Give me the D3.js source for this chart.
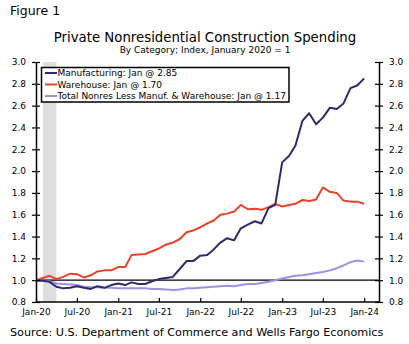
<!DOCTYPE html>
<html>
<head>
<meta charset="utf-8">
<script src="https://cdn.jsdelivr.net/npm/d3@7"></script>
<style>
  html, body { margin: 0; padding: 0; background: #fff; }
  svg { display: block; }
  text { font-family: "DejaVu Sans", Verdana, sans-serif; fill: #000; }
</style>
</head>
<body>
<svg id="chart" width="409" height="344"></svg>
<script>
// Monthly index values, January 2020 = 1, Jan-20 through Jan-24
const manufacturing = [
  1.00, 0.995, 0.985, 0.94, 0.925, 0.93, 0.945, 0.93, 0.92, 0.945, 0.93, 0.955,
  0.97, 0.955, 0.98, 0.965, 0.965, 0.99, 1.01, 1.02, 1.03, 1.10, 1.175, 1.175,
  1.225, 1.23, 1.28, 1.345, 1.385, 1.365, 1.475, 1.51, 1.54, 1.52, 1.66, 1.69,
  2.08, 2.14, 2.235, 2.46, 2.53, 2.43, 2.49, 2.58, 2.57, 2.62, 2.76, 2.785,
  2.85
];
const warehouse = [
  1.00, 1.02, 1.04, 1.01, 1.03, 1.06, 1.055, 1.025, 1.045, 1.08, 1.09, 1.09,
  1.12, 1.12, 1.23, 1.235, 1.24, 1.265, 1.29, 1.325, 1.345, 1.375, 1.44, 1.455,
  1.485, 1.52, 1.545, 1.60, 1.61, 1.63, 1.69, 1.65, 1.655, 1.645, 1.67, 1.70,
  1.675, 1.69, 1.70, 1.735, 1.725, 1.74, 1.85, 1.81, 1.80, 1.73, 1.72, 1.72,
  1.70
];
const totalLessManufWarehouse = [
  1.00, 0.995, 0.99, 0.97, 0.965, 0.96, 0.955, 0.94, 0.935, 0.935, 0.93, 0.93,
  0.925, 0.925, 0.925, 0.925, 0.925, 0.92, 0.92, 0.915, 0.91, 0.915, 0.925, 0.925,
  0.93, 0.935, 0.94, 0.945, 0.95, 0.945, 0.955, 0.965, 0.965, 0.975, 0.985, 1.00,
  1.015, 1.03, 1.04, 1.045, 1.055, 1.065, 1.075, 1.09, 1.11, 1.135, 1.165, 1.18,
  1.17
];
const months = d3.range(manufacturing.length).map(i => new Date(2020, i, 1));

const seriesNames = [
  "Manufacturing: Jan @ 2.85",
  "Warehouse: Jan @ 1.70",
  "Total Nonres Less Manuf. & Warehouse: Jan @ 1.17"
];
const seriesColors = ["#2d2a6e", "#e8432b", "#9d90e6"];
const seriesValues = [manufacturing, warehouse, totalLessManufWarehouse];

const yTickValues = [0.8, 1.0, 1.2, 1.4, 1.6, 1.8, 2.0, 2.2, 2.4, 2.6, 2.8, 3.0];
const recession = [new Date(2020, 1, 1), new Date(2020, 3, 1)];

const svg = d3.select("#chart");
const plotLeft = 36, plotRight = 379, plotTop = 62, plotBottom = 302;

const x = d3.scaleTime()
  .domain([new Date(2020, 0, 1), new Date(2024, 2, 7)])
  .range([plotLeft, plotRight]);
const y = d3.scaleLinear().domain([0.8, 3.0]).range([plotBottom, plotTop]);

// Recession shading
svg.append("rect")
  .attr("x", x(recession[0]))
  .attr("y", plotTop)
  .attr("width", x(recession[1]) - x(recession[0]))
  .attr("height", plotBottom - plotTop)
  .attr("fill", "#dedede");

// Reference line at 1.0
svg.append("line")
  .attr("x1", plotLeft).attr("x2", plotRight)
  .attr("y1", y(1)).attr("y2", y(1))
  .attr("stroke", "#000").attr("stroke-width", 1.2);

// Series lines, first series drawn on top
const line = d3.line().x((d, i) => x(months[i])).y(d => y(d));
seriesValues.slice().reverse().forEach((vals, k) => {
  const idx = seriesValues.length - 1 - k;
  svg.append("path")
    .datum(vals)
    .attr("d", line)
    .attr("fill", "none")
    .attr("stroke", seriesColors[idx])
    .attr("stroke-width", 2)
    .attr("stroke-linejoin", "round");
});

// Axes
const fmt = d3.format(".1f");
const yLeft = svg.append("g")
  .attr("transform", `translate(${plotLeft},0)`)
  .call(d3.axisLeft(y).tickValues(yTickValues).tickFormat(fmt).tickSize(4).tickSizeOuter(0).tickPadding(6));
const yRight = svg.append("g")
  .attr("transform", `translate(${plotRight},0)`)
  .call(d3.axisRight(y).tickValues(yTickValues).tickFormat(fmt).tickSize(4).tickSizeOuter(0).tickPadding(6));
yLeft.selectAll(".tick line").attr("x1", 4).attr("x2", -4);
yRight.selectAll(".tick line").attr("x1", -4).attr("x2", 4);

const xAxis = svg.append("g")
  .attr("transform", `translate(0,${plotBottom})`)
  .call(d3.axisBottom(x).ticks(d3.timeMonth.every(6)).tickFormat(d3.timeFormat("%b-%y"))
    .tickSize(-4).tickSizeOuter(0).tickPadding(7));
xAxis.select(".domain").attr("d", `M${plotLeft},0H${plotRight}`);

[yLeft, yRight, xAxis].forEach(g => {
  g.selectAll(".domain").attr("stroke", "#000").attr("stroke-width", 1.5);
  g.selectAll(".tick line").attr("stroke", "#000").attr("stroke-width", 1.2);
  g.selectAll("text").attr("font-size", 9).attr("font-family", "DejaVu Sans, Verdana, sans-serif").attr("fill", "#000");
});

// Legend
const lg = svg.append("g");
lg.append("rect")
  .attr("x", 41.5).attr("y", 67.5).attr("width", 247.5).attr("height", 34.5)
  .attr("fill", "#fff").attr("stroke", "#000").attr("stroke-width", 1.5);
seriesNames.forEach((name, i) => {
  const ly = 73 + i * 11.5;
  lg.append("line")
    .attr("x1", 45).attr("x2", 57).attr("y1", ly).attr("y2", ly)
    .attr("stroke", seriesColors[i]).attr("stroke-width", 2);
  lg.append("text")
    .attr("x", 57.5).attr("y", ly).attr("dy", "0.35em")
    .attr("font-size", 9)
    .text(name);
});

// Titles and notes
svg.append("text").attr("x", 10).attr("y", 14.5).attr("font-size", 12.5).text("Figure 1");
svg.append("text").attr("x", 205).attr("y", 42).attr("text-anchor", "middle")
  .attr("font-size", 13.3).text("Private Nonresidential Construction Spending");
svg.append("text").attr("x", 205).attr("y", 52.5).attr("text-anchor", "middle")
  .attr("font-size", 9).text("By Category; Index, January 2020 = 1");
svg.append("text").attr("x", 10).attr("y", 336).attr("font-size", 11.2)
  .text("Source: U.S. Department of Commerce and Wells Fargo Economics");
</script>
</body>
</html>
